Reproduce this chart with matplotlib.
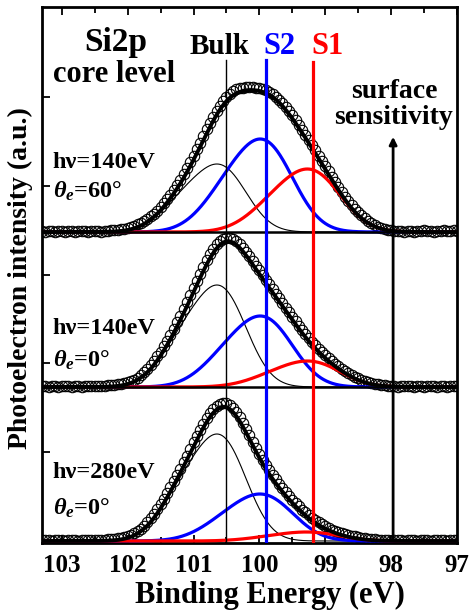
import numpy as np
import matplotlib
matplotlib.use("Agg")
import matplotlib.pyplot as plt
from matplotlib.ticker import MultipleLocator

plt.rcParams['font.family'] = ['Liberation Serif', 'DejaVu Serif']
plt.rcParams['font.weight'] = 'bold'
plt.rcParams['mathtext.fontset'] = 'custom'
plt.rcParams['mathtext.rm'] = 'Liberation Serif:bold'
plt.rcParams['mathtext.it'] = 'Liberation Serif:italic:bold'
plt.rcParams['mathtext.bf'] = 'Liberation Serif:bold'

# measured points, 103.3 -> 97.0 eV in 0.05 eV steps
energy = np.round(np.arange(103.3, 96.99, -0.05), 2)

spec_140_60 = [
    0.01, 0.00, 0.01, 0.01, 0.00, 0.01, 0.01, 0.00, 0.01, 0.01, 0.00, 0.01, 0.01, 0.01, 0.00, 0.01,
    0.01, 0.01, 0.00, 0.01, 0.01, 0.02, 0.02, 0.02, 0.03, 0.03, 0.04, 0.05, 0.06, 0.08, 0.09, 0.11,
    0.13, 0.16, 0.18, 0.21, 0.25, 0.29, 0.33, 0.37, 0.42, 0.47, 0.52, 0.58, 0.64, 0.70, 0.76, 0.83,
    0.89, 0.96, 1.03, 1.09, 1.15, 1.21, 1.26, 1.31, 1.35, 1.38, 1.41, 1.43, 1.44, 1.44, 1.45, 1.45,
    1.45, 1.44, 1.44, 1.43, 1.42, 1.40, 1.38, 1.35, 1.32, 1.29, 1.25, 1.21, 1.17, 1.12, 1.07, 1.02,
    0.97, 0.92, 0.87, 0.82, 0.76, 0.71, 0.66, 0.61, 0.55, 0.50, 0.45, 0.40, 0.35, 0.31, 0.27, 0.23,
    0.20, 0.17, 0.14, 0.11, 0.09, 0.07, 0.05, 0.04, 0.03, 0.02, 0.02, 0.01, 0.01, 0.01, 0.00, 0.01,
    0.01, 0.00, 0.01, 0.01, 0.02, 0.01, 0.01, 0.00, 0.01, 0.01, 0.02, 0.01, 0.01, 0.02, 0.01]

spec_140_0 = [
    0.01, 0.01, 0.00, 0.01, 0.01, 0.00, 0.01, 0.01, 0.01, 0.00, 0.01, 0.01, 0.00, 0.01, 0.01, 0.01,
    0.01, 0.01, 0.01, 0.01, 0.02, 0.02, 0.02, 0.03, 0.03, 0.04, 0.05, 0.06, 0.07, 0.09, 0.12, 0.15,
    0.18, 0.22, 0.26, 0.31, 0.35, 0.41, 0.46, 0.52, 0.58, 0.65, 0.71, 0.78, 0.85, 0.92, 0.99, 1.06,
    1.13, 1.20, 1.27, 1.33, 1.38, 1.43, 1.46, 1.48, 1.49, 1.49, 1.48, 1.46, 1.43, 1.39, 1.35, 1.31,
    1.26, 1.21, 1.17, 1.12, 1.07, 1.03, 0.98, 0.93, 0.89, 0.84, 0.79, 0.75, 0.70, 0.66, 0.61, 0.57,
    0.53, 0.49, 0.45, 0.42, 0.38, 0.35, 0.32, 0.29, 0.26, 0.23, 0.21, 0.18, 0.16, 0.14, 0.12, 0.10,
    0.09, 0.07, 0.06, 0.05, 0.04, 0.03, 0.03, 0.02, 0.02, 0.01, 0.01, 0.01, 0.00, 0.01, 0.01, 0.01,
    0.01, 0.00, 0.01, 0.01, 0.00, 0.01, 0.01, 0.01, 0.00, 0.01, 0.01, 0.00, 0.01, 0.01, 0.01]

spec_280_0 = [
    0.01, 0.01, 0.01, 0.00, 0.01, 0.01, 0.01, 0.00, 0.01, 0.01, 0.01, 0.00, 0.01, 0.01, 0.01, 0.01,
    0.01, 0.01, 0.01, 0.01, 0.02, 0.02, 0.02, 0.03, 0.03, 0.04, 0.05, 0.06, 0.08, 0.10, 0.12, 0.15,
    0.19, 0.23, 0.27, 0.32, 0.37, 0.42, 0.48, 0.54, 0.60, 0.66, 0.72, 0.79, 0.85, 0.92, 0.99, 1.05,
    1.11, 1.17, 1.23, 1.28, 1.32, 1.35, 1.37, 1.38, 1.38, 1.36, 1.33, 1.29, 1.24, 1.18, 1.12, 1.06,
    0.99, 0.93, 0.87, 0.81, 0.76, 0.71, 0.66, 0.62, 0.57, 0.53, 0.49, 0.45, 0.41, 0.38, 0.35, 0.31,
    0.29, 0.26, 0.23, 0.21, 0.19, 0.17, 0.15, 0.13, 0.11, 0.10, 0.09, 0.08, 0.07, 0.06, 0.05, 0.05,
    0.04, 0.03, 0.03, 0.02, 0.02, 0.02, 0.01, 0.01, 0.01, 0.01, 0.00, 0.01, 0.01, 0.01, 0.00, 0.01,
    0.01, 0.01, 0.00, 0.01, 0.01, 0.01, 0.00, 0.01, 0.01, 0.01, 0.01, 0.00, 0.01, 0.01, 0.01]

spectra = [spec_140_60, spec_140_0, spec_280_0]
offsets = [3.09, 1.54, 0.0]

# fitted components: 2p3/2 position, gaussian width, peak height
bulk_pos = [100.54, 100.54, 100.54]
bulk_sig = [0.37, 0.37, 0.37]
bulk_amp = [0.68, 1.02, 1.07]
s2_pos = [99.86, 99.86, 99.86]
s2_sig = [0.41, 0.41, 0.42]
s2_amp = [0.93, 0.71, 0.47]
s1_pos = [99.14, 99.14, 99.16]
s1_sig = [0.42, 0.42, 0.42]
s1_amp = [0.63, 0.26, 0.09]

labels_hv = ["h\u03bd=140eV", "h\u03bd=140eV", "h\u03bd=280eV"]
labels_th = [r"$\theta_e$=60$\degree$", r"$\theta_e$=0$\degree$", r"$\theta_e$=0$\degree$"]
hv_y = [3.78, 2.13, 0.68]
th_y = [3.50, 1.81, 0.33]

line_bulk = 100.5
line_s2 = 99.9
line_s1 = 99.18
line_arrow = 97.97

E = np.linspace(103.3, 97.0, 1261)


def doublet(x, c, s, h):
    # Si 2p spin-orbit pair, 2p1/2 at +0.6 eV with half intensity
    g = np.exp(-(x - c)**2 / (2 * s**2)) + 0.5 * np.exp(-(x - c - 0.6)**2 / (2 * s**2))
    return h * g / g.max()


fig = plt.figure(figsize=(4.69, 6.10), dpi=100)
ax = fig.add_axes([42/469, 67/610, 415/469, 536/610])

for i in range(3):
    b = doublet(E, bulk_pos[i], bulk_sig[i], bulk_amp[i])
    s2 = doublet(E, s2_pos[i], s2_sig[i], s2_amp[i])
    s1 = doublet(E, s1_pos[i], s1_sig[i], s1_amp[i])
    fit = b + s2 + s1
    ax.plot(energy, np.array(spectra[i]) + offsets[i], 'o', ms=7.5, mfc='none', mec='black', mew=0.8, zorder=2)
    ax.plot(E, b + offsets[i], color='black', lw=0.8, zorder=3)
    ax.plot(E, s2 + offsets[i], color='#0000ff', lw=2.3, zorder=3)
    ax.plot(E, s1 + offsets[i], color='#ff0000', lw=2.3, zorder=3)
    ax.plot(E, fit + offsets[i], color='black', lw=2.8, zorder=4)
    if offsets[i] > 0:
        ax.axhline(offsets[i], color='black', lw=1.8, zorder=4)
    ax.text(103.14, hv_y[i], labels_hv[i], fontsize=17.5, ha='left', va='center')
    ax.text(103.14, th_y[i], labels_th[i], fontsize=17.5, ha='left', va='center')

ax.set_xlim(103.3, 97.0)
ax.set_ylim(-0.02, 5.34)

ax.plot([line_bulk, line_bulk], [-0.02, 4.81], color='black', lw=1.0, zorder=5)
ax.plot([line_s2, line_s2], [-0.02, 4.81], color='#0000ff', lw=2.3, zorder=5)
ax.plot([line_s1, line_s1], [-0.02, 4.79], color='#ff0000', lw=2.3, zorder=5)
ax.annotate('', xy=(line_arrow, 4.07), xytext=(line_arrow, -0.02),
            arrowprops=dict(arrowstyle='-|>', lw=2.0, color='black', mutation_scale=11), zorder=5)

ax.xaxis.set_major_locator(MultipleLocator(1))
ax.xaxis.set_minor_locator(MultipleLocator(0.5))
ax.tick_params(axis='x', which='both', direction='in', top=True, labelsize=18, width=1.3, pad=8)
ax.tick_params(axis='x', which='major', length=6)
ax.tick_params(axis='x', which='minor', length=4)
ax.set_yticks(np.arange(0.888, 5.0, 0.888))
ax.set_yticklabels([])
ax.tick_params(axis='y', direction='in', length=6, width=1.3, right=False)
for sp in ax.spines.values():
    sp.set_linewidth(2)

ax.set_xlabel("Binding Energy (eV)", fontsize=22, fontweight='bold')
ax.set_ylabel("Photoelectron intensity (a.u.)", fontsize=20, fontweight='bold')
ax.xaxis.set_label_coords(0.549, -0.071)
ax.yaxis.set_label_coords(-0.022, 0.495)

ax.text(102.18, 4.99, "Si2p", fontsize=24, ha='center', va='center')
ax.text(102.2, 4.67, "core level", fontsize=22, ha='center', va='center')
ax.text(100.61, 4.95, "Bulk", fontsize=21, ha='center', va='center', color='black')
ax.text(99.70, 4.95, "S2", fontsize=22, ha='center', va='center', color='#0000ff')
ax.text(98.97, 4.95, "S1", fontsize=22, ha='center', va='center', color='#ff0000')
ax.text(97.95, 4.49, "surface", fontsize=20, ha='center', va='center')
ax.text(97.96, 4.23, "sensitivity", fontsize=20, ha='center', va='center')

fig.savefig("out.png", dpi=100)
